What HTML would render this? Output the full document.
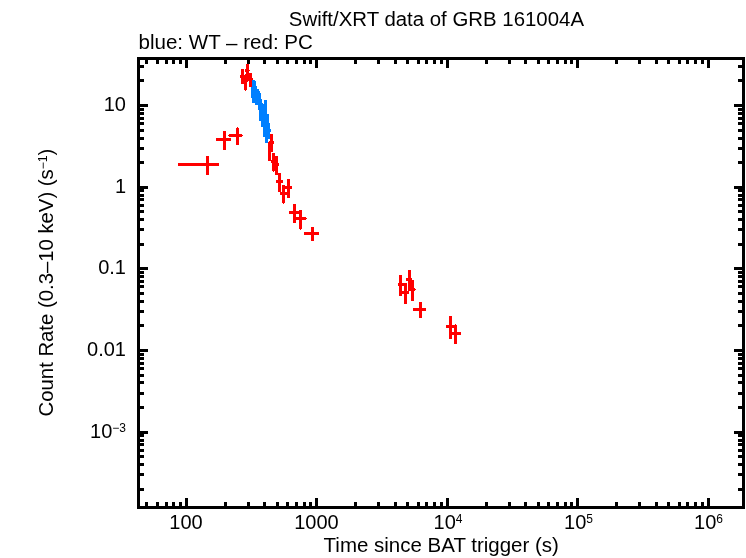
<!DOCTYPE html>
<html><head><meta charset="utf-8"><title>Swift/XRT data of GRB 161004A</title>
<style>
html,body{margin:0;padding:0;background:#fff;}
svg{display:block;}
text{font-family:"Liberation Sans",sans-serif;font-size:20px;fill:#000;}
.sup{font-size:12px;}
</style></head><body>
<svg width="746" height="558" viewBox="0 0 746 558">
<rect x="0" y="0" width="746" height="558" fill="#fff"/>
<g shape-rendering="crispEdges" fill="#000">
<rect x="137" y="57" width="608" height="3"/>
<rect x="137" y="506" width="608" height="3"/>
<rect x="137" y="57" width="3" height="452"/>
<rect x="742" y="57" width="3" height="452"/>
<rect x="145" y="57" width="3" height="7"/>
<rect x="145" y="502" width="3" height="7"/>
<rect x="156" y="57" width="3" height="7"/>
<rect x="156" y="502" width="3" height="7"/>
<rect x="165" y="57" width="3" height="7"/>
<rect x="165" y="502" width="3" height="7"/>
<rect x="172" y="57" width="3" height="7"/>
<rect x="172" y="502" width="3" height="7"/>
<rect x="179" y="57" width="3" height="7"/>
<rect x="179" y="502" width="3" height="7"/>
<rect x="185" y="57" width="3" height="11"/>
<rect x="185" y="498" width="3" height="11"/>
<rect x="224" y="57" width="3" height="7"/>
<rect x="224" y="502" width="3" height="7"/>
<rect x="247" y="57" width="3" height="7"/>
<rect x="247" y="502" width="3" height="7"/>
<rect x="263" y="57" width="3" height="7"/>
<rect x="263" y="502" width="3" height="7"/>
<rect x="276" y="57" width="3" height="7"/>
<rect x="276" y="502" width="3" height="7"/>
<rect x="286" y="57" width="3" height="7"/>
<rect x="286" y="502" width="3" height="7"/>
<rect x="295" y="57" width="3" height="7"/>
<rect x="295" y="502" width="3" height="7"/>
<rect x="303" y="57" width="3" height="7"/>
<rect x="303" y="502" width="3" height="7"/>
<rect x="309" y="57" width="3" height="7"/>
<rect x="309" y="502" width="3" height="7"/>
<rect x="315" y="57" width="3" height="11"/>
<rect x="315" y="498" width="3" height="11"/>
<rect x="354" y="57" width="3" height="7"/>
<rect x="354" y="502" width="3" height="7"/>
<rect x="377" y="57" width="3" height="7"/>
<rect x="377" y="502" width="3" height="7"/>
<rect x="394" y="57" width="3" height="7"/>
<rect x="394" y="502" width="3" height="7"/>
<rect x="406" y="57" width="3" height="7"/>
<rect x="406" y="502" width="3" height="7"/>
<rect x="417" y="57" width="3" height="7"/>
<rect x="417" y="502" width="3" height="7"/>
<rect x="425" y="57" width="3" height="7"/>
<rect x="425" y="502" width="3" height="7"/>
<rect x="433" y="57" width="3" height="7"/>
<rect x="433" y="502" width="3" height="7"/>
<rect x="440" y="57" width="3" height="7"/>
<rect x="440" y="502" width="3" height="7"/>
<rect x="446" y="57" width="3" height="11"/>
<rect x="446" y="498" width="3" height="11"/>
<rect x="485" y="57" width="3" height="7"/>
<rect x="485" y="502" width="3" height="7"/>
<rect x="508" y="57" width="3" height="7"/>
<rect x="508" y="502" width="3" height="7"/>
<rect x="524" y="57" width="3" height="7"/>
<rect x="524" y="502" width="3" height="7"/>
<rect x="537" y="57" width="3" height="7"/>
<rect x="537" y="502" width="3" height="7"/>
<rect x="547" y="57" width="3" height="7"/>
<rect x="547" y="502" width="3" height="7"/>
<rect x="556" y="57" width="3" height="7"/>
<rect x="556" y="502" width="3" height="7"/>
<rect x="564" y="57" width="3" height="7"/>
<rect x="564" y="502" width="3" height="7"/>
<rect x="570" y="57" width="3" height="7"/>
<rect x="570" y="502" width="3" height="7"/>
<rect x="576" y="57" width="3" height="11"/>
<rect x="576" y="498" width="3" height="11"/>
<rect x="615" y="57" width="3" height="7"/>
<rect x="615" y="502" width="3" height="7"/>
<rect x="638" y="57" width="3" height="7"/>
<rect x="638" y="502" width="3" height="7"/>
<rect x="655" y="57" width="3" height="7"/>
<rect x="655" y="502" width="3" height="7"/>
<rect x="667" y="57" width="3" height="7"/>
<rect x="667" y="502" width="3" height="7"/>
<rect x="678" y="57" width="3" height="7"/>
<rect x="678" y="502" width="3" height="7"/>
<rect x="686" y="57" width="3" height="7"/>
<rect x="686" y="502" width="3" height="7"/>
<rect x="694" y="57" width="3" height="7"/>
<rect x="694" y="502" width="3" height="7"/>
<rect x="701" y="57" width="3" height="7"/>
<rect x="701" y="502" width="3" height="7"/>
<rect x="707" y="57" width="3" height="11"/>
<rect x="707" y="498" width="3" height="11"/>
<rect x="137" y="488" width="7" height="3"/>
<rect x="738" y="488" width="7" height="3"/>
<rect x="137" y="473" width="7" height="3"/>
<rect x="738" y="473" width="7" height="3"/>
<rect x="137" y="463" width="7" height="3"/>
<rect x="738" y="463" width="7" height="3"/>
<rect x="137" y="455" width="7" height="3"/>
<rect x="738" y="455" width="7" height="3"/>
<rect x="137" y="449" width="7" height="3"/>
<rect x="738" y="449" width="7" height="3"/>
<rect x="137" y="443" width="7" height="3"/>
<rect x="738" y="443" width="7" height="3"/>
<rect x="137" y="439" width="7" height="3"/>
<rect x="738" y="439" width="7" height="3"/>
<rect x="137" y="434" width="7" height="3"/>
<rect x="738" y="434" width="7" height="3"/>
<rect x="137" y="431" width="11" height="3"/>
<rect x="734" y="431" width="11" height="3"/>
<rect x="137" y="406" width="7" height="3"/>
<rect x="738" y="406" width="7" height="3"/>
<rect x="137" y="392" width="7" height="3"/>
<rect x="738" y="392" width="7" height="3"/>
<rect x="137" y="381" width="7" height="3"/>
<rect x="738" y="381" width="7" height="3"/>
<rect x="137" y="374" width="7" height="3"/>
<rect x="738" y="374" width="7" height="3"/>
<rect x="137" y="367" width="7" height="3"/>
<rect x="738" y="367" width="7" height="3"/>
<rect x="137" y="362" width="7" height="3"/>
<rect x="738" y="362" width="7" height="3"/>
<rect x="137" y="357" width="7" height="3"/>
<rect x="738" y="357" width="7" height="3"/>
<rect x="137" y="353" width="7" height="3"/>
<rect x="738" y="353" width="7" height="3"/>
<rect x="137" y="349" width="11" height="3"/>
<rect x="734" y="349" width="11" height="3"/>
<rect x="137" y="324" width="7" height="3"/>
<rect x="738" y="324" width="7" height="3"/>
<rect x="137" y="310" width="7" height="3"/>
<rect x="738" y="310" width="7" height="3"/>
<rect x="137" y="300" width="7" height="3"/>
<rect x="738" y="300" width="7" height="3"/>
<rect x="137" y="292" width="7" height="3"/>
<rect x="738" y="292" width="7" height="3"/>
<rect x="137" y="285" width="7" height="3"/>
<rect x="738" y="285" width="7" height="3"/>
<rect x="137" y="280" width="7" height="3"/>
<rect x="738" y="280" width="7" height="3"/>
<rect x="137" y="275" width="7" height="3"/>
<rect x="738" y="275" width="7" height="3"/>
<rect x="137" y="271" width="7" height="3"/>
<rect x="738" y="271" width="7" height="3"/>
<rect x="137" y="267" width="11" height="3"/>
<rect x="734" y="267" width="11" height="3"/>
<rect x="137" y="243" width="7" height="3"/>
<rect x="738" y="243" width="7" height="3"/>
<rect x="137" y="228" width="7" height="3"/>
<rect x="738" y="228" width="7" height="3"/>
<rect x="137" y="218" width="7" height="3"/>
<rect x="738" y="218" width="7" height="3"/>
<rect x="137" y="210" width="7" height="3"/>
<rect x="738" y="210" width="7" height="3"/>
<rect x="137" y="204" width="7" height="3"/>
<rect x="738" y="204" width="7" height="3"/>
<rect x="137" y="198" width="7" height="3"/>
<rect x="738" y="198" width="7" height="3"/>
<rect x="137" y="194" width="7" height="3"/>
<rect x="738" y="194" width="7" height="3"/>
<rect x="137" y="189" width="7" height="3"/>
<rect x="738" y="189" width="7" height="3"/>
<rect x="137" y="186" width="11" height="3"/>
<rect x="734" y="186" width="11" height="3"/>
<rect x="137" y="161" width="7" height="3"/>
<rect x="738" y="161" width="7" height="3"/>
<rect x="137" y="147" width="7" height="3"/>
<rect x="738" y="147" width="7" height="3"/>
<rect x="137" y="137" width="7" height="3"/>
<rect x="738" y="137" width="7" height="3"/>
<rect x="137" y="129" width="7" height="3"/>
<rect x="738" y="129" width="7" height="3"/>
<rect x="137" y="122" width="7" height="3"/>
<rect x="738" y="122" width="7" height="3"/>
<rect x="137" y="117" width="7" height="3"/>
<rect x="738" y="117" width="7" height="3"/>
<rect x="137" y="112" width="7" height="3"/>
<rect x="738" y="112" width="7" height="3"/>
<rect x="137" y="108" width="7" height="3"/>
<rect x="738" y="108" width="7" height="3"/>
<rect x="137" y="104" width="11" height="3"/>
<rect x="734" y="104" width="11" height="3"/>
<rect x="137" y="79" width="7" height="3"/>
<rect x="738" y="79" width="7" height="3"/>
<rect x="137" y="65" width="7" height="3"/>
<rect x="738" y="65" width="7" height="3"/>
<rect x="252" y="80" width="3" height="1" fill="#0080ff"/>
<rect x="252" y="81" width="4" height="5" fill="#0080ff"/>
<rect x="252" y="86" width="5" height="1" fill="#0080ff"/>
<rect x="251" y="87" width="6" height="2" fill="#0080ff"/>
<rect x="251" y="89" width="8" height="2" fill="#0080ff"/>
<rect x="251" y="91" width="9" height="2" fill="#0080ff"/>
<rect x="251" y="93" width="10" height="5" fill="#0080ff"/>
<rect x="252" y="98" width="9" height="1" fill="#0080ff"/>
<rect x="252" y="99" width="10" height="1" fill="#0080ff"/>
<rect x="252" y="100" width="10" height="3" fill="#0080ff"/>
<rect x="264" y="100" width="3" height="3" fill="#0080ff"/>
<rect x="255" y="103" width="8" height="1" fill="#0080ff"/>
<rect x="264" y="103" width="3" height="1" fill="#0080ff"/>
<rect x="255" y="104" width="12" height="1" fill="#0080ff"/>
<rect x="258" y="105" width="9" height="5" fill="#0080ff"/>
<rect x="259" y="110" width="8" height="4" fill="#0080ff"/>
<rect x="259" y="114" width="10" height="7" fill="#0080ff"/>
<rect x="261" y="121" width="8" height="2" fill="#0080ff"/>
<rect x="261" y="123" width="9" height="4" fill="#0080ff"/>
<rect x="263" y="127" width="7" height="2" fill="#0080ff"/>
<rect x="263" y="129" width="8" height="3" fill="#0080ff"/>
<rect x="263" y="132" width="7" height="5" fill="#0080ff"/>
<rect x="265" y="137" width="5" height="2" fill="#0080ff"/>
<rect x="265" y="139" width="3" height="4" fill="#0080ff"/>
<rect x="246" y="64" width="3" height="5" fill="#f00"/>
<rect x="241" y="69" width="3" height="1" fill="#f00"/>
<rect x="245" y="69" width="4" height="1" fill="#f00"/>
<rect x="241" y="70" width="3" height="1" fill="#f00"/>
<rect x="245" y="70" width="5" height="1" fill="#f00"/>
<rect x="241" y="71" width="3" height="1" fill="#f00"/>
<rect x="245" y="71" width="4" height="1" fill="#f00"/>
<rect x="241" y="72" width="3" height="1" fill="#f00"/>
<rect x="246" y="72" width="3" height="1" fill="#f00"/>
<rect x="241" y="73" width="3" height="1" fill="#f00"/>
<rect x="246" y="73" width="6" height="1" fill="#f00"/>
<rect x="241" y="74" width="3" height="1" fill="#f00"/>
<rect x="245" y="74" width="7" height="1" fill="#f00"/>
<rect x="240" y="75" width="12" height="3" fill="#f00"/>
<rect x="241" y="78" width="12" height="2" fill="#f00"/>
<rect x="241" y="80" width="11" height="1" fill="#f00"/>
<rect x="241" y="81" width="7" height="1" fill="#f00"/>
<rect x="249" y="81" width="3" height="1" fill="#f00"/>
<rect x="241" y="82" width="6" height="2" fill="#f00"/>
<rect x="249" y="82" width="3" height="2" fill="#f00"/>
<rect x="244" y="84" width="3" height="3" fill="#f00"/>
<rect x="249" y="84" width="3" height="3" fill="#f00"/>
<rect x="244" y="87" width="3" height="3" fill="#f00"/>
<rect x="245" y="90" width="1" height="1" fill="#f00"/>
<rect x="206" y="156" width="3" height="19" fill="#f00"/>
<rect x="178" y="163" width="41" height="3" fill="#f00"/>
<rect x="223" y="131" width="3" height="19" fill="#f00"/>
<rect x="216" y="138" width="15" height="3" fill="#f00"/>
<rect x="236" y="128" width="3" height="17" fill="#f00"/>
<rect x="229" y="134" width="13" height="3" fill="#f00"/>
<rect x="237" y="127" width="1" height="1" fill="#f00"/>
<rect x="228" y="135" width="1" height="1" fill="#f00"/>
<rect x="242" y="135" width="1" height="1" fill="#f00"/>
<rect x="270" y="134" width="3" height="18" fill="#f00"/>
<rect x="269" y="141" width="5" height="3" fill="#f00"/>
<rect x="268" y="142" width="3" height="19" fill="#f00"/>
<rect x="272" y="153" width="3" height="18" fill="#f00"/>
<rect x="271" y="160" width="7" height="3" fill="#f00"/>
<rect x="273" y="171" width="1" height="1" fill="#f00"/>
<rect x="275" y="156" width="3" height="19" fill="#f00"/>
<rect x="272" y="163" width="7" height="3" fill="#f00"/>
<rect x="278" y="173" width="3" height="19" fill="#f00"/>
<rect x="276" y="180" width="7" height="3" fill="#f00"/>
<rect x="287" y="179" width="3" height="19" fill="#f00"/>
<rect x="285" y="186" width="7" height="3" fill="#f00"/>
<rect x="282" y="185" width="3" height="18" fill="#f00"/>
<rect x="280" y="192" width="7" height="3" fill="#f00"/>
<rect x="283" y="203" width="1" height="1" fill="#f00"/>
<rect x="293" y="204" width="3" height="19" fill="#f00"/>
<rect x="289" y="211" width="11" height="3" fill="#f00"/>
<rect x="299" y="210" width="3" height="19" fill="#f00"/>
<rect x="294" y="217" width="12" height="3" fill="#f00"/>
<rect x="300" y="229" width="1" height="1" fill="#f00"/>
<rect x="306" y="218" width="1" height="1" fill="#f00"/>
<rect x="311" y="227" width="3" height="14" fill="#f00"/>
<rect x="304" y="232" width="15" height="3" fill="#f00"/>
<rect x="399" y="275" width="3" height="21" fill="#f00"/>
<rect x="398" y="283" width="9" height="3" fill="#f00"/>
<rect x="404" y="283" width="3" height="21" fill="#f00"/>
<rect x="399" y="291" width="10" height="3" fill="#f00"/>
<rect x="408" y="270" width="3" height="21" fill="#f00"/>
<rect x="406" y="278" width="6" height="3" fill="#f00"/>
<rect x="411" y="280" width="3" height="21" fill="#f00"/>
<rect x="410" y="288" width="5" height="3" fill="#f00"/>
<rect x="415" y="289" width="1" height="1" fill="#f00"/>
<rect x="419" y="302" width="3" height="16" fill="#f00"/>
<rect x="413" y="308" width="13" height="3" fill="#f00"/>
<rect x="449" y="316" width="3" height="23" fill="#f00"/>
<rect x="446" y="325" width="11" height="3" fill="#f00"/>
<rect x="454" y="325" width="3" height="19" fill="#f00"/>
<rect x="450" y="332" width="11" height="3" fill="#f00"/>
<rect x="455" y="324" width="1" height="1" fill="#f00"/>
</g>
<text x="288.8" y="26" textLength="295.2" lengthAdjust="spacingAndGlyphs">Swift/XRT data of GRB 161004A</text>
<text x="138.5" y="49" textLength="174.4" lengthAdjust="spacingAndGlyphs">blue: WT <tspan dy="1">–</tspan><tspan dy="-1"> red: PC</tspan></text>
<text x="186" y="529" text-anchor="middle">100</text>
<text x="316.5" y="529" text-anchor="middle">1000</text>
<text x="448" y="529" text-anchor="middle">10<tspan class="sup" dy="-6">4</tspan></text>
<text x="578.5" y="529" text-anchor="middle">10<tspan class="sup" dy="-6">5</tspan></text>
<text x="708.5" y="529" text-anchor="middle">10<tspan class="sup" dy="-6">6</tspan></text>
<text x="126" y="111" text-anchor="end">10</text>
<text x="126" y="193" text-anchor="end">1</text>
<text x="126" y="274" text-anchor="end">0.1</text>
<text x="126" y="356" text-anchor="end">0.01</text>
<text x="126" y="438" text-anchor="end">10<tspan class="sup" dy="-6">−3</tspan></text>
<text x="323.6" y="552" textLength="235.3" lengthAdjust="spacingAndGlyphs">Time since BAT trigger (s)</text>
<text transform="translate(53,416.4) rotate(-90)" textLength="267.8" lengthAdjust="spacingAndGlyphs">Count Rate (0.3–10 keV) (s<tspan class="sup" dy="-6">−1</tspan><tspan dy="6">)</tspan></text>
</svg>
</body></html>
